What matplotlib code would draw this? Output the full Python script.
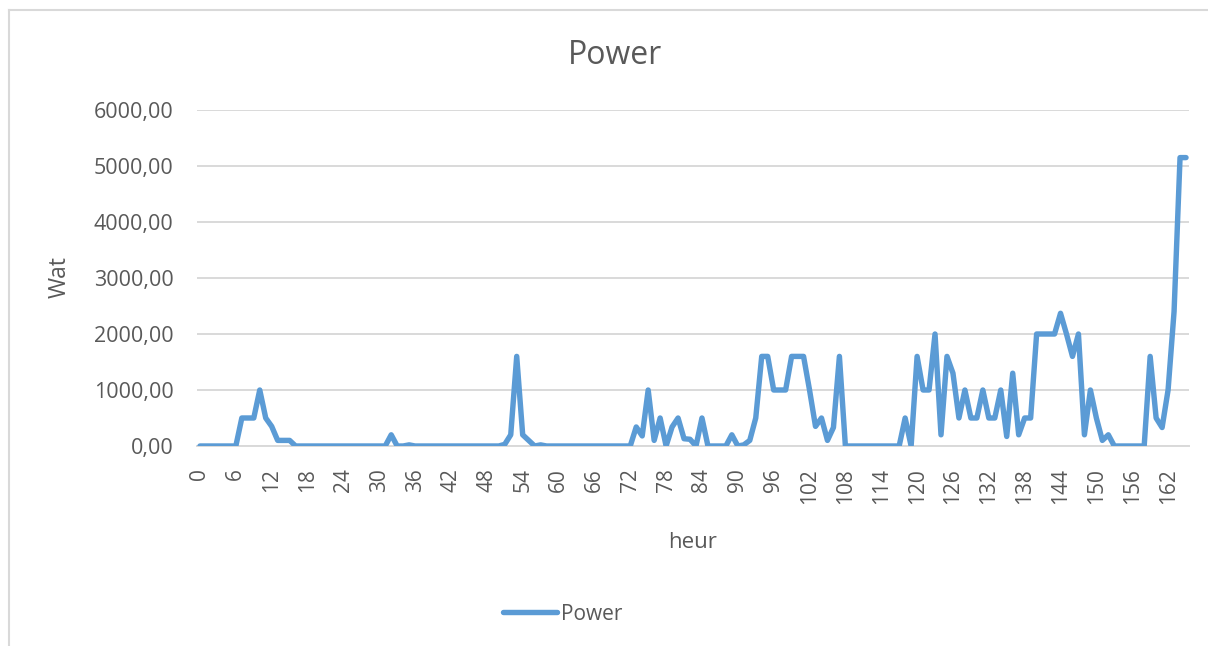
import matplotlib.pyplot as plt
from matplotlib.lines import Line2D
from matplotlib.ticker import FuncFormatter

# heures 0..165
heures = list(range(166))
power = [
    0, 0, 0, 0, 0, 0, 0, 500, 500, 500,            # 0-9
    1000, 500, 350, 100, 100, 100, 0, 0, 0, 0,     # 10-19
    0, 0, 0, 0, 0, 0, 0, 0, 0, 0,                  # 20-29
    0, 0, 200, 0, 0, 20, 0, 0, 0, 0,               # 30-39
    0, 0, 0, 0, 0, 0, 0, 0, 0, 0,                  # 40-49
    0, 30, 200, 1600, 200, 100, 0, 20, 0, 0,       # 50-59
    0, 0, 0, 0, 0, 0, 0, 0, 0, 0,                  # 60-69
    0, 0, 0, 340, 180, 1000, 100, 500, 0, 340,     # 70-79
    500, 130, 120, 0, 500, 0, 0, 0, 0, 200,        # 80-89
    0, 20, 100, 500, 1600, 1600, 1000, 1000, 1000, 1600,  # 90-99
    1600, 1600, 1000, 350, 500, 100, 330, 1600, 0, 0,     # 100-109
    0, 0, 0, 0, 0, 0, 0, 0, 500, 0,                # 110-119
    1600, 1000, 1000, 2000, 200, 1600, 1300, 500, 1000, 500,  # 120-129
    500, 1000, 500, 500, 1000, 170, 1300, 200, 500, 500,      # 130-139
    2000, 2000, 2000, 2000, 2370, 2000, 1600, 2000, 200, 1000,  # 140-149
    500, 100, 200, 0, 0, 0, 0, 0, 0, 1600,          # 150-159
    500, 330, 1000, 2400, 5150, 5150,               # 160-165
]
yticks = [0, 1000, 2000, 3000, 4000, 5000, 6000]

txt = '#595959'
grid_c = '#D9D9D9'
blue = '#5B9BD5'

plt.rcParams['font.family'] = ['Open Sans', 'DejaVu Sans']

fig = plt.figure(figsize=(12.08, 6.46), dpi=100)
W, H = 1208, 646
ax = fig.add_axes([197 / W, 1 - 446 / H, (1189 - 197) / W, (446 - 110) / H])

ax.plot(heures, power, color=blue, linewidth=3.9, solid_joinstyle='round',
        solid_capstyle='round', label='Power', zorder=3)

ax.set_xlim(-0.5, 165.5)
ax.set_ylim(0, 6000)
ax.set_yticks(yticks)
ax.yaxis.set_major_formatter(FuncFormatter(lambda v, p: f"{v:.2f}".replace('.', ',')))
ax.set_xticks(heures[::6])
ax.set_xticklabels([str(h) for h in heures[::6]], rotation=90, va='top')

ax.grid(axis='y', color=grid_c, linewidth=1.4)
ax.set_axisbelow(True)
for s in ['top', 'right', 'left']:
    ax.spines[s].set_visible(False)
ax.spines['bottom'].set_color(grid_c)
ax.spines['bottom'].set_linewidth(1.4)
ax.tick_params(axis='both', length=0, colors=txt)
ax.tick_params(axis='y', labelsize=15.5, pad=17)
ax.tick_params(axis='x', labelsize=15, pad=16)

# titres
fig.text(615 / W, 1 - 55 / H, 'Power', fontsize=23, color=txt, ha='center', va='center')
fig.text(60 / W, 1 - 277 / H, 'Wat', fontsize=16.5, color=txt, rotation=90,
         ha='center', va='center')
fig.text(693 / W, 1 - 543 / H, 'heur', fontsize=16, color=txt, ha='center', va='center')

fig.legend(loc='center', bbox_to_anchor=(563 / W, 1 - 614 / H), frameon=False,
           fontsize=15, handlelength=2.6, handletextpad=0.2, labelcolor=txt)

# cadre du graphique
fig.add_artist(Line2D([9 / W, 9 / W], [0, 1 - 10 / H], color=grid_c, linewidth=1.5))
fig.add_artist(Line2D([9 / W, 1], [1 - 10 / H, 1 - 10 / H], color=grid_c, linewidth=1.5))

fig.savefig('out.png', dpi=100)
